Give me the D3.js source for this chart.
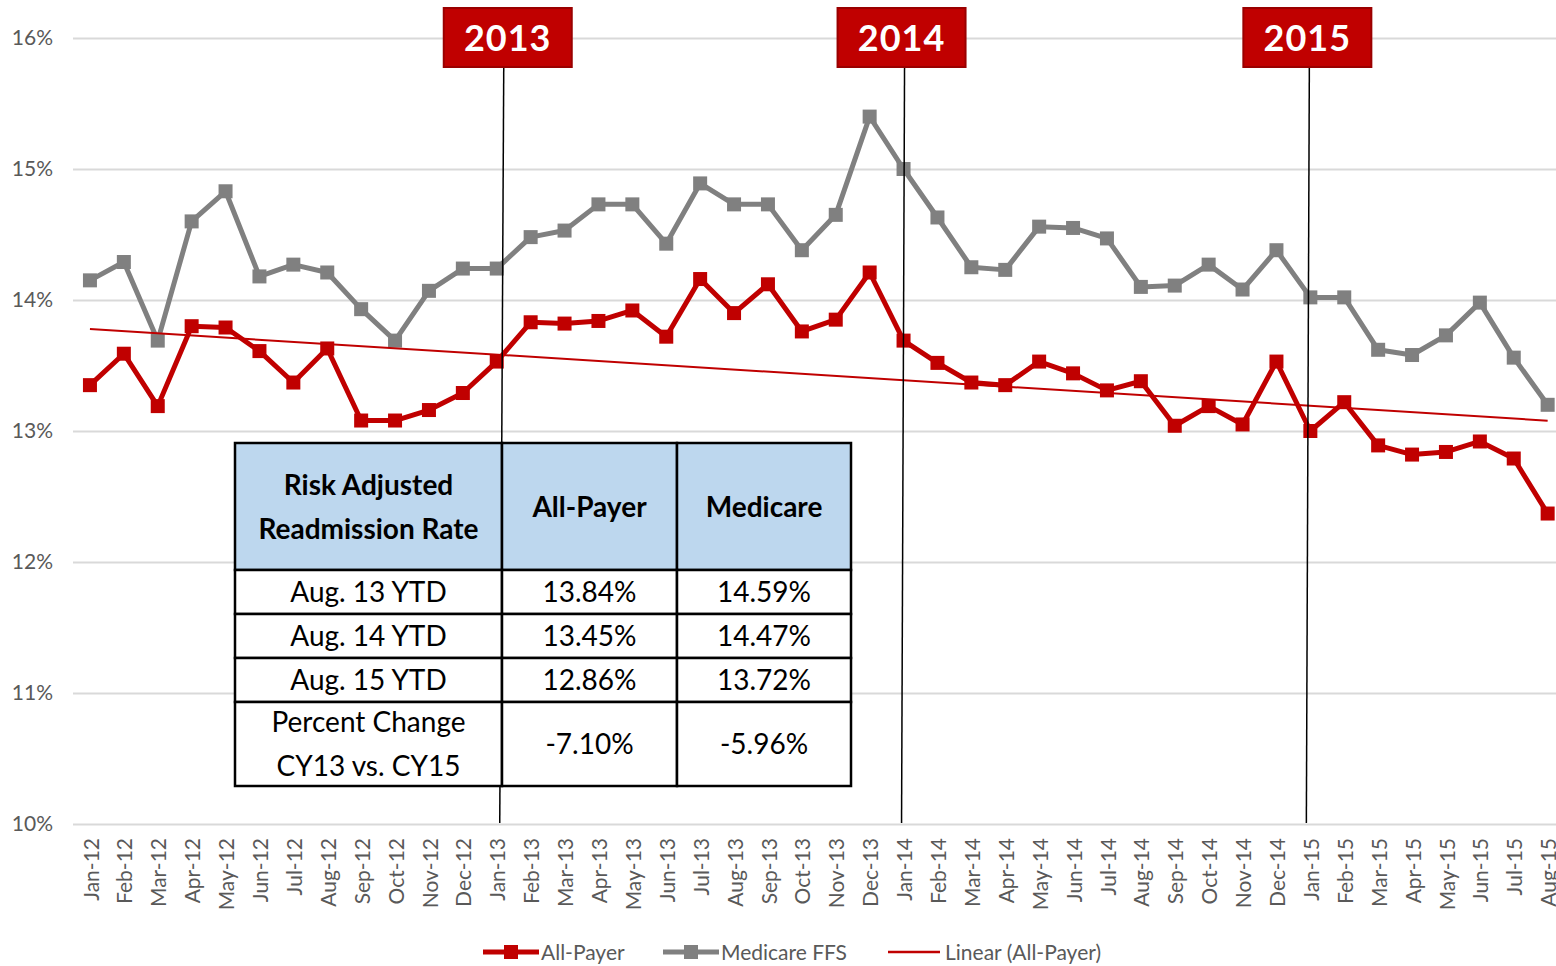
<!DOCTYPE html>
<html>
<head>
<meta charset="utf-8">
<script src="https://cdn.jsdelivr.net/npm/d3@7"></script>
<style>
  body { margin: 0; background: #fff; }
  svg { display: block; font-family: Lato, "Open Sans", sans-serif; }
</style>
</head>
<body>
<svg id="chart" width="1556" height="966"></svg>
<script>
var months = ["Jan-12","Feb-12","Mar-12","Apr-12","May-12","Jun-12","Jul-12","Aug-12","Sep-12","Oct-12","Nov-12","Dec-12",
  "Jan-13","Feb-13","Mar-13","Apr-13","May-13","Jun-13","Jul-13","Aug-13","Sep-13","Oct-13","Nov-13","Dec-13",
  "Jan-14","Feb-14","Mar-14","Apr-14","May-14","Jun-14","Jul-14","Aug-14","Sep-14","Oct-14","Nov-14","Dec-14",
  "Jan-15","Feb-15","Mar-15","Apr-15","May-15","Jun-15","Jul-15","Aug-15"]

var allPayer = [13.35,13.59,13.19,13.80,13.79,13.61,13.37,13.63,13.08,13.08,13.16,13.29,
  13.53,13.83,13.82,13.84,13.92,13.72,14.16,13.90,14.12,13.76,13.85,14.21,
  13.69,13.52,13.37,13.35,13.53,13.44,13.31,13.38,13.04,13.19,13.05,13.53,
  13.00,13.22,12.89,12.82,12.84,12.92,12.79,12.37]

var medicare = [14.15,14.29,13.69,14.60,14.83,14.18,14.27,14.21,13.93,13.69,14.07,14.24,
  14.24,14.48,14.53,14.73,14.73,14.43,14.89,14.73,14.73,14.38,14.65,15.40,
  15.00,14.63,14.25,14.23,14.56,14.55,14.47,14.10,14.11,14.27,14.08,14.38,
  14.02,14.02,13.62,13.58,13.73,13.98,13.56,13.20]

var yTicks = [10, 11, 12, 13, 14, 15, 16]
var yearMarks = [{ label: "2013", month: "Jan-13" }, { label: "2014", month: "Jan-14" }, { label: "2015", month: "Jan-15" }]

var tableHeader = ["Risk Adjusted|Readmission Rate", "All-Payer", "Medicare"]
var tableRows = [
  ["Aug. 13 YTD", "13.84%", "14.59%"],
  ["Aug. 14 YTD", "13.45%", "14.47%"],
  ["Aug. 15 YTD", "12.86%", "13.72%"],
  ["Percent Change|CY13 vs. CY15", "-7.10%", "-5.96%"]
]

var legendItems = [
  { name: "All-Payer", color: "#c00000", marker: true },
  { name: "Medicare FFS", color: "#808080", marker: true },
  { name: "Linear (All-Payer)", color: "#c00000", marker: false }
]

var red = "#c00000", gray = "#808080", textGray = "#595959"
var left = 73, step = 33.9
// hand-placed callouts: box/line offsets from the month centre
var markNudge = { "2013": { box: 11, top: 7, bot: 3 }, "2014": { box: -2, top: 1, bot: -2 }, "2015": { box: -3, top: -1, bot: -4 } }

var svg = d3.select("#chart")

var x = d3.scaleBand()
  .domain(months)
  .range([left, left + step * months.length])
  .padding(0)
var cx = function (m) { return x(m) + x.bandwidth() / 2 }

var y = d3.scaleLinear().domain([10, 16]).range([824, 38])

// gridlines + y labels
var yAxis = svg.append("g")
  .attr("transform", "translate(" + left + ",0)")
  .call(d3.axisLeft(y).tickValues(yTicks).tickSize(-1500).tickFormat(function (d) { return d + "%" }))
yAxis.select(".domain").remove()
yAxis.selectAll("line").attr("stroke", "#d9d9d9").attr("stroke-width", 2)
yAxis.selectAll("text")
  .attr("x", -20)
  .attr("fill", textGray)
  .style("font-size", "21px")
  .style("font-family", "Lato, sans-serif")

// x labels
svg.append("g")
  .selectAll("text")
  .data(months)
  .enter()
  .append("text")
  .attr("transform", function (d) { return "translate(" + (cx(d) + 1) + ",838) rotate(-90)" })
  .attr("text-anchor", "end")
  .attr("dy", "0.36em")
  .attr("fill", textGray)
  .style("font-size", "21px")
  .text(function (d) { return d })

// trend line (least squares on All-Payer)
var n = allPayer.length
var mx = d3.mean(d3.range(n)), my = d3.mean(allPayer)
var slope = d3.sum(d3.range(n), function (i) { return (i - mx) * (allPayer[i] - my) }) /
  d3.sum(d3.range(n), function (i) { return (i - mx) * (i - mx) })
var icpt = my - slope * mx

var line = d3.line()
  .x(function (d, i) { return cx(months[i]) })
  .y(function (d) { return y(d) })

function drawSeries(values, color) {
  var g = svg.append("g")
  g.append("path")
    .datum(values)
    .attr("d", line)
    .attr("fill", "none")
    .attr("stroke", color)
    .attr("stroke-width", 5)
    .attr("stroke-linejoin", "round")
  g.selectAll("rect")
    .data(values)
    .enter()
    .append("rect")
    .attr("x", function (d, i) { return cx(months[i]) - 7 })
    .attr("y", function (d) { return y(d) - 7 })
    .attr("width", 14)
    .attr("height", 14)
    .attr("fill", color)
}

drawSeries(medicare, gray)
drawSeries(allPayer, red)

svg.append("line")
  .attr("x1", cx(months[0]))
  .attr("x2", cx(months[n - 1]))
  .attr("y1", y(icpt))
  .attr("y2", y(icpt + slope * (n - 1)))
  .attr("stroke", red)
  .attr("stroke-width", 2)

// year markers
var marks = svg.append("g").selectAll("g").data(yearMarks).enter().append("g")
marks.append("line")
  .attr("x1", function (d) { return cx(d.month) + markNudge[d.label].top })
  .attr("x2", function (d) { return cx(d.month) + markNudge[d.label].bot })
  .attr("y1", 66)
  .attr("y2", 823)
  .attr("stroke", "#000")
  .attr("stroke-width", 1.5)
marks.append("rect")
  .attr("x", function (d) { return cx(d.month) + markNudge[d.label].box - 64 })
  .attr("y", 8)
  .attr("width", 128)
  .attr("height", 59)
  .attr("fill", red)
  .attr("stroke", "#9a0000")
  .attr("stroke-width", 2)
marks.append("text")
  .attr("x", function (d) { return cx(d.month) + markNudge[d.label].box })
  .attr("y", 51)
  .attr("text-anchor", "middle")
  .attr("fill", "#fff")
  .style("font-size", "36px")
  .style("font-weight", "bold")
  .style("letter-spacing", "1px")
  .text(function (d) { return d.label })

// table
var colX = [235, 502, 677, 851]
var rowY = [443, 570, 614, 658, 702, 786]
var tbl = svg.append("g").style("font-family", "Lato, 'Open Sans', sans-serif")
var allRows = [tableHeader].concat(tableRows)
allRows.forEach(function (row, r) {
  row.forEach(function (cell, c) {
    var x0 = colX[c], x1 = colX[c + 1], y0 = rowY[r], y1 = rowY[r + 1]
    tbl.append("rect")
      .attr("x", x0).attr("y", y0)
      .attr("width", x1 - x0).attr("height", y1 - y0)
      .attr("fill", r === 0 ? "#bdd7ee" : "#fff")
      .attr("stroke", "#000").attr("stroke-width", 2.5)
    var lines = cell.split("|")
    var lh = 44
    var midY = (y0 + y1) / 2
    lines.forEach(function (t, k) {
      tbl.append("text")
        .attr("x", (x0 + x1) / 2)
        .attr("y", midY + (k - (lines.length - 1) / 2) * lh)
        .attr("dy", "0.36em")
        .attr("text-anchor", "middle")
        .attr("fill", "#000")
        .style("font-size", "28px")
        .style("font-weight", r === 0 ? "bold" : "normal")
        .text(t)
    })
  })
})

// legend
var legX = [483, 663, 888]
var leg = svg.append("g").selectAll("g").data(legendItems).enter().append("g")
  .attr("transform", function (d, i) { return "translate(" + legX[i] + ",952)" })
leg.append("line")
  .attr("x1", 0).attr("x2", function (d) { return d.marker ? 56 : 52 })
  .attr("stroke", function (d) { return d.color })
  .attr("stroke-width", function (d) { return d.marker ? 5 : 2.5 })
leg.filter(function (d) { return d.marker })
  .append("rect")
  .attr("x", 21).attr("y", -7).attr("width", 14).attr("height", 14)
  .attr("fill", function (d) { return d.color })
leg.append("text")
  .attr("x", function (d) { return d.marker ? 58 : 57 })
  .attr("dy", "0.36em")
  .attr("fill", textGray)
  .style("font-size", "21px")
  .text(function (d) { return d.name })
</script>
</body>
</html>
